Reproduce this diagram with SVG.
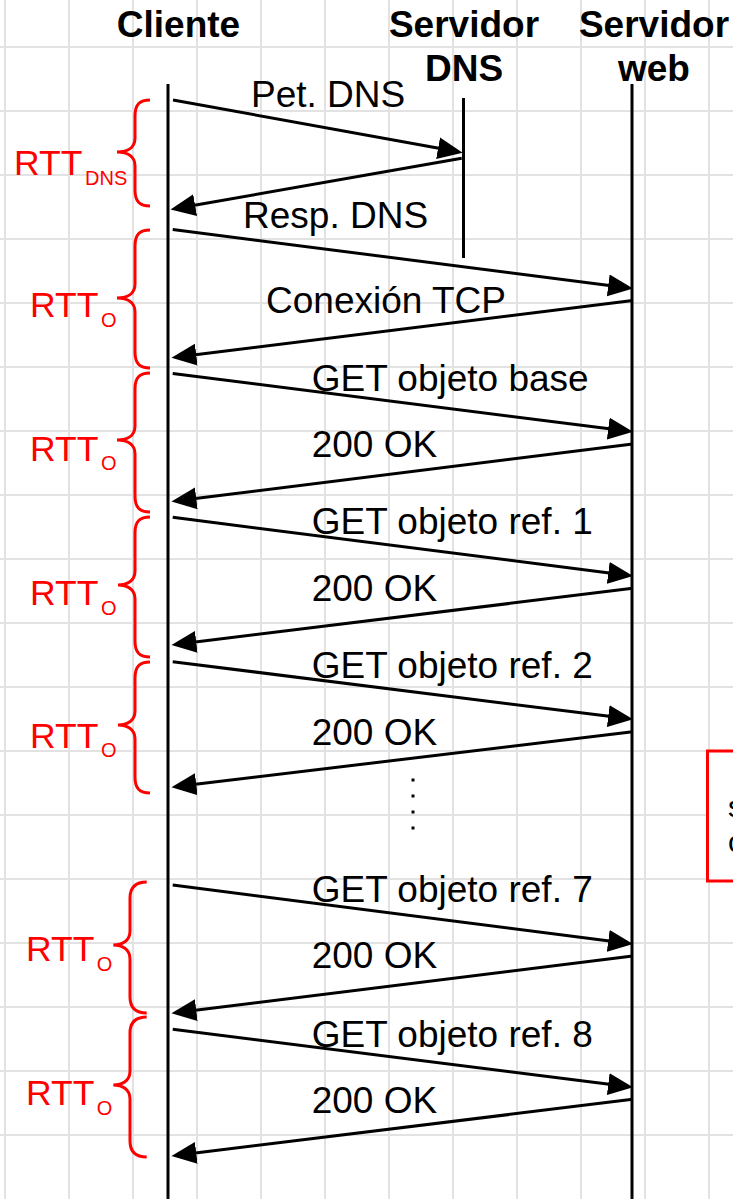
<svg xmlns="http://www.w3.org/2000/svg" width="733" height="1199" viewBox="0 0 733 1199">
<style>
.grid line{stroke:#e2e2e2;stroke-width:2}
.life{stroke:#000;stroke-width:3;fill:none}
.hdr{font-family:"Liberation Sans",Arial,sans-serif;font-weight:bold;font-size:37px;fill:#000;text-anchor:middle}
.msg{font-family:"Liberation Sans",Arial,sans-serif;font-size:37px;fill:#000}
.rtt{font-family:"Liberation Sans",Arial,sans-serif;font-size:35.5px;fill:#ff0000}
.sub{font-size:20px}
.brace{stroke:#ff0000;stroke-width:3;fill:none}
.conn line{stroke:#000;stroke-width:3;marker-end:url(#ah)}
.note{fill:#fff;stroke:#ff0000;stroke-width:3}
.notetxt{font-family:"Liberation Sans",Arial,sans-serif;font-size:30px;fill:#000}
</style>
<defs>
<marker id="ah" markerUnits="userSpaceOnUse" markerWidth="26" markerHeight="24" refX="5" refY="11" orient="auto">
<path d="M0,0 L25,11 L0,22 z" fill="#000"/>
</marker>
</defs>
<rect width="733" height="1199" fill="#fff"/>
<g class="grid">
<line x1="5" y1="0" x2="5" y2="1199"/><line x1="69" y1="0" x2="69" y2="1199"/><line x1="133" y1="0" x2="133" y2="1199"/><line x1="197" y1="0" x2="197" y2="1199"/><line x1="261" y1="0" x2="261" y2="1199"/><line x1="325" y1="0" x2="325" y2="1199"/><line x1="389" y1="0" x2="389" y2="1199"/><line x1="453" y1="0" x2="453" y2="1199"/><line x1="517" y1="0" x2="517" y2="1199"/><line x1="581" y1="0" x2="581" y2="1199"/><line x1="645" y1="0" x2="645" y2="1199"/><line x1="709" y1="0" x2="709" y2="1199"/>
<line x1="0" y1="47" x2="733" y2="47"/><line x1="0" y1="111" x2="733" y2="111"/><line x1="0" y1="175" x2="733" y2="175"/><line x1="0" y1="239" x2="733" y2="239"/><line x1="0" y1="303" x2="733" y2="303"/><line x1="0" y1="367" x2="733" y2="367"/><line x1="0" y1="431" x2="733" y2="431"/><line x1="0" y1="495" x2="733" y2="495"/><line x1="0" y1="559" x2="733" y2="559"/><line x1="0" y1="623" x2="733" y2="623"/><line x1="0" y1="687" x2="733" y2="687"/><line x1="0" y1="751" x2="733" y2="751"/><line x1="0" y1="815" x2="733" y2="815"/><line x1="0" y1="879" x2="733" y2="879"/><line x1="0" y1="943" x2="733" y2="943"/><line x1="0" y1="1007" x2="733" y2="1007"/><line x1="0" y1="1071" x2="733" y2="1071"/><line x1="0" y1="1135" x2="733" y2="1135"/>
</g>

<g id="cliente">
<text class="hdr" x="178.5" y="37">Cliente</text>
<line class="life" x1="168" y1="84" x2="168" y2="1199"/>
</g>
<g id="servidor-dns">
<text class="hdr" x="464" y="37">Servidor</text>
<text class="hdr" x="464" y="81">DNS</text>
<line class="life" x1="463.5" y1="98" x2="463.5" y2="258"/>
</g>
<g id="servidor-web">
<text class="hdr" x="654" y="37">Servidor</text>
<text class="hdr" x="654" y="81">web</text>
<line class="life" x1="632" y1="84" x2="632" y2="1199"/>
</g>

<g id="rtt-dns">
<path class="brace" d="M150,100 C140,100 135,104 135,116 L135,138 C135,148 127,152 117,152 C127,152 135,156 135,166 L135,190 C135,202 140,206 150,206"/>
<text class="rtt" x="14" y="175">RTT<tspan class="sub" x="85" y="185">DNS</tspan></text>
</g>
<g id="rtt-o-1">
<path class="brace" d="M150,230 C140,230 135,234 135,246 L135,284 C135,294 127,298 117,298 C127,298 135,302 135,312 L135,352 C135,364 140,368 150,368"/>
<text class="rtt" x="30" y="317.3">RTT<tspan class="sub" x="101" y="326.7">O</tspan></text>
</g>
<g id="rtt-o-2">
<path class="brace" d="M150,373 C140,373 135,377 135,389 L135,426 C135,436 127,440 117,440 C127,440 135,444 135,454 L135,496 C135,508 140,512 150,512"/>
<text class="rtt" x="30" y="460.7">RTT<tspan class="sub" x="101" y="470">O</tspan></text>
</g>
<g id="rtt-o-3">
<path class="brace" d="M150,517 C140,517 135,521 135,533 L135,571 C135,581 127,585 118,585 C127,585 135,589 135,599 L135,641 C135,653 140,657 150,657"/>
<text class="rtt" x="30" y="605">RTT<tspan class="sub" x="101" y="615">O</tspan></text>
</g>
<g id="rtt-o-4">
<path class="brace" d="M150,662 C140,662 135,666 135,678 L135,711 C135,721 127,725 118,725 C127,725 135,729 135,739 L135,777 C135,789 140,793 150,793"/>
<text class="rtt" x="30" y="748.3">RTT<tspan class="sub" x="101" y="757.3">O</tspan></text>
</g>
<g id="rtt-o-5">
<path class="brace" d="M146.7,882 C136.7,882 130,886 130,898 L130,931 C130,941 122,945 113.3,945 C122,945 130,949 130,959 L130,997 C130,1009 136.7,1013 146.7,1013"/>
<text class="rtt" x="26" y="961">RTT<tspan class="sub" x="96.7" y="970.7">O</tspan></text>
</g>
<g id="rtt-o-6">
<path class="brace" d="M146.7,1017 C136.7,1017 130,1021 130,1033 L130,1071 C130,1081 122,1085 113.3,1085 C122,1085 130,1089 130,1099 L130,1141 C130,1153 136.7,1157 146.7,1157"/>
<text class="rtt" x="26" y="1105">RTT<tspan class="sub" x="96.7" y="1114.7">O</tspan></text>
</g>

<g id="nota">
<rect class="note" x="707.5" y="751" width="60" height="130"/>
<text class="notetxt" x="728" y="817">s</text>
<text class="notetxt" x="728" y="852">c</text>
</g>

<g id="puntos" fill="#000">
<rect x="411.5" y="778.5" width="3" height="3"/>
<rect x="411.5" y="794.5" width="3" height="3"/>
<rect x="411.5" y="810.5" width="3" height="3"/>
<rect x="411.5" y="826.5" width="3" height="3"/>
</g>

<g class="conn" id="conectores">
<line x1="173" y1="100" x2="443" y2="149.1"/>
<line x1="461.7" y1="158.3" x2="190.2" y2="206"/>
<line x1="172.7" y1="229.5" x2="613.2" y2="286"/>
<line x1="632.7" y1="300.5" x2="191.3" y2="355.2"/>
<line x1="172.7" y1="373.5" x2="613.2" y2="429.2"/>
<line x1="632.7" y1="444" x2="191.3" y2="499"/>
<line x1="172.7" y1="517.3" x2="613.2" y2="573.5"/>
<line x1="632.7" y1="588.3" x2="191.3" y2="642.5"/>
<line x1="172.7" y1="661.7" x2="613.2" y2="716.8"/>
<line x1="632.7" y1="731.7" x2="191.3" y2="784.8"/>
<line x1="172.7" y1="885" x2="613.2" y2="941.5"/>
<line x1="632.7" y1="956" x2="191.3" y2="1010.8"/>
<line x1="172.7" y1="1029.3" x2="613.2" y2="1084.8"/>
<line x1="632.7" y1="1099.3" x2="191.3" y2="1153.5"/>
</g>

<g id="etiquetas">
<text class="msg" x="251" y="107">Pet. DNS</text>
<text class="msg" x="243" y="228">Resp. DNS</text>
<text class="msg" x="266" y="313">Conexión TCP</text>
<text class="msg" x="311.7" y="390.7">GET objeto base</text>
<text class="msg" x="311.7" y="457">200 OK</text>
<text class="msg" x="311.7" y="534">GET objeto ref. 1</text>
<text class="msg" x="311.7" y="600.7">200 OK</text>
<text class="msg" x="311.7" y="678.3">GET objeto ref. 2</text>
<text class="msg" x="311.7" y="745">200 OK</text>
<text class="msg" x="311.7" y="901.7">GET objeto ref. 7</text>
<text class="msg" x="311.7" y="968.3">200 OK</text>
<text class="msg" x="311.7" y="1046.7">GET objeto ref. 8</text>
<text class="msg" x="311.7" y="1113.3">200 OK</text>
</g>
</svg>
